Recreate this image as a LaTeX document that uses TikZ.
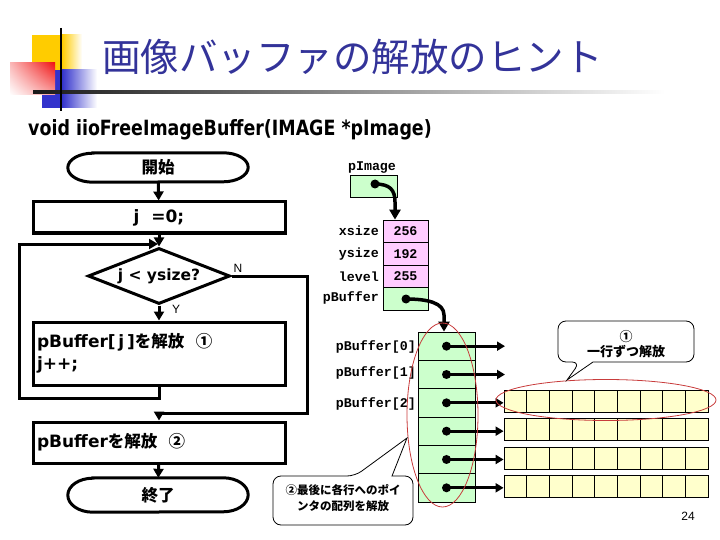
\documentclass[tikz,border=0pt]{standalone}
\usepackage{fontspec}
\setmainfont{Liberation Sans}
\newfontfamily\jp{Noto Sans CJK JP}
\newfontfamily\mono{Liberation Mono}
\newfontfamily\dvs{DejaVu Sans}
\newfontfamily\subf[FakeStretch=0.83]{DejaVu Sans}
\usetikzlibrary{arrows.meta,shapes.geometric,calc,shadings}
\definecolor{ttl}{RGB}{51,51,153}
\definecolor{lgreen}{RGB}{204,255,204}
\definecolor{lpink}{RGB}{255,204,255}
\definecolor{lyel}{RGB}{255,255,204}
\definecolor{ered}{RGB}{200,60,60}
\definecolor{dyel}{RGB}{255,204,0}
\definecolor{dblue}{RGB}{51,51,204}
\definecolor{dred}{RGB}{240,20,20}
\newcommand\cj[1]{{\jp\bfseries\fontsize{16.5}{22}\selectfont #1}}
\tikzset{
  flfont/.style={font=\dvs\bfseries\fontsize{17}{22}\selectfont},
  flbox/.style={draw, line width=3pt, rectangle, flfont, inner sep=0pt, minimum width=252pt},
  term/.style={rectangle, flfont, inner sep=0pt, minimum width=180pt},
  farrow/.style={line width=3pt, -{Triangle[length=9pt,width=10pt]}},
  yn/.style={font=\fontsize{12}{13}\selectfont, inner sep=0pt},
  mlab/.style={font=\mono\bfseries\fontsize{13.3}{14}\selectfont, inner sep=0pt},
  thinbox/.style={draw, line width=0.8pt, rectangle, inner sep=0pt},
  carrow/.style={line width=3.5pt, -{Triangle[length=10pt,width=11pt]}},
  parrow/.style={line width=3pt, -{Triangle[length=8pt,width=9pt]}},
  redell/.style={ellipse, draw=ered, line width=0.8pt, inner sep=0pt},
  callout/.style={line width=0.8pt, rounded corners=8pt},
}
\newcommand\drawterm[3]{%
  \draw[line width=3pt] ([xshift=#2pt]#1.north west) -- ([xshift=-#2pt]#1.north east)
    arc[start angle=90,end angle=-90,x radius=#2pt,y radius=#3pt]
    -- ([xshift=#2pt]#1.south west)
    arc[start angle=270,end angle=90,x radius=#2pt,y radius=#3pt] -- cycle;}
\begin{document}
\begin{tikzpicture}[x=1pt,y=-1pt]
\useasboundingbox (0,0) rectangle (720,540);
% title decoration
\fill[dyel] (32,35) rectangle (62,70);
\shade[left color=dyel, right color=white] (62,35) rectangle (82,70);
\fill[dblue] (42,70) rectangle (62,108);
\shade[left color=dblue, right color=white] (62,70) rectangle (97,108);
\shade[upper left=dred!30!white, upper right=dred, lower left=white, lower right=dred!40!white] (10,63) rectangle (55,95);
\shade[left color=black!90, middle color=black!55, right color=white] (33,90.5) rectangle (665,93.5);
\draw[line width=1.6pt] (61,28) -- (61,111);
\node[font=\jp\fontsize{38.5}{40}\selectfont, text=ttl, inner sep=0pt] (title) at (352.5,57) {画像バッファの解放のヒント};
\node[font=\subf\bfseries\fontsize{21}{24}\selectfont, anchor=west, inner sep=0pt] (sub) at (28,130) {void iioFreeImageBuffer(IMAGE *pImage)};

% flowchart
\node[term, minimum height=29pt] (s) at (158,167.5) {\cj{開始}};
\drawterm{s}{25}{14.5}
\node[flbox, minimum height=31pt] (init) at (159,217.5) {j\ \ =0;};
\node[draw, diamond, aspect=2.54, line width=3pt, inner sep=0pt, minimum width=142pt, minimum height=56pt, font=\dvs\bfseries\fontsize{15.5}{20}\selectfont] (d) at (159,276) {j < ysize?};
\node[flbox, minimum height=63pt, text width=244pt, align=left] (b1) at (159,353.5) {pBuffer[\,j\,]\cj{を解放}\ \ \cj{①}\\j++;};
\node[flbox, minimum height=41pt, text width=244pt, align=left] (b2) at (159,442.5) {pBuffer\cj{を解放}\ \ \cj{②}};
\node[term, minimum height=34pt] (e) at (158,495) {\cj{終了}};
\drawterm{e}{25}{17}

\coordinate (lp) at (19,398);
\coordinate (mg) at (159,244);
\coordinate (nr) at (307,413);
\draw[farrow] (s) -- (init);
\draw[farrow] (init) -- (d);
\draw[farrow] (d) -- (b1);
\draw[line width=3pt, -{Triangle[length=9pt,width=10pt]}] (b1.south) |- (lp) |- ([xshift=-1pt]mg);
\draw[farrow] (d.east) -| (nr) -| (b2.north);
\draw[farrow] (b2) -- (e);
\node[yn] (ylab) at (176,309) {Y};
\node[yn] (nlab) at (238,268) {N};

% structure
\node[mlab] (lpi) at (372,168) {pImage};
\node[thinbox, fill=lgreen, minimum width=47pt, minimum height=22pt] (pib) at (373.5,186) {};
\node[thinbox, fill=lpink, minimum width=45pt, minimum height=22.5pt, mlab] (x0) at (405.5,231.25) {256};
\node[thinbox, fill=lpink, minimum width=45pt, minimum height=22.5pt, mlab] (x1) at (405.5,253.75) {192};
\node[thinbox, fill=lpink, minimum width=45pt, minimum height=22.5pt, mlab] (x2) at (405.5,276.25) {255};
\node[thinbox, fill=lgreen, minimum width=45pt, minimum height=22.5pt] (x3) at (405.5,298.75) {};
\node[mlab, anchor=east] (lx) at (379,231) {xsize};
\node[mlab, anchor=east] (ly) at (379,254) {ysize};
\node[mlab, anchor=east] (ll) at (379,277) {level};
\node[mlab, anchor=east] (lb) at (379,298) {pBuffer};

\coordinate (pid) at (375,184);
\fill (pid) circle (4.5pt);
\draw[carrow] (pid) .. controls (390,184) and (395,190) .. (395,202) -- ([xshift=-10.5pt]x0.north);

% pointer array
\foreach \i in {0,...,5}{
  \node[thinbox, fill=lgreen, minimum width=57pt, minimum height=28.33pt] (a\i) at (446.5,{346.17+\i*28.33}) {};
}
\coordinate (pbd) at (406,299);
\fill (pbd) circle (4.5pt);
\draw[carrow] (pbd) .. controls (428,299) and (444,303) .. (444,315) -- ([xshift=-2.5pt]a0.north);

\node[mlab, anchor=east] (l0) at (416,347) {pBuffer[0]};
\node[mlab, anchor=east] (l1) at (416,373) {pBuffer[1]};
\node[mlab, anchor=east] (l2) at (416,404) {pBuffer[2]};

% rows
\foreach \r in {2,...,5}{
  \foreach \c in {1,...,9}{
    \node[thinbox, fill=lyel, minimum width=22.67pt, minimum height=22pt] (y\r-\c) at ({504+(\c-0.5)*22.667},{401.5+(\r-2)*28.2}) {};
  }
}
\coordinate (t0) at (505,346.17);
\coordinate (t1) at (505,374.5);
\foreach \i in {0,...,5}{ \fill (a\i.center) circle (4.5pt); }
\draw[parrow] (a0.center) -- (t0);
\draw[parrow] (a1.center) -- (t1);
\foreach \i in {2,...,5}{
  \draw[parrow] (a\i.center) -- (a\i.center -| y\i-1.west);
}

% red ellipses
\node[redell, minimum width=220pt, minimum height=41pt] (el1) at (606,400) {};
\node[redell, minimum width=71pt, minimum height=184pt] (el2) at (442.5,415) {};

% callouts
\draw[callout] (593,362) -- (694,362) -- (694,321) -- (558,321) -- (558,362) -- (580,362) [sharp corners] -- (567,380) -- cycle;
\node[font=\jp\bfseries\fontsize{13}{15}\selectfont, align=center, inner sep=0pt] (c1t) at (626,344.5) {①\\一行ずつ解放};
\draw[callout] (392,476) -- (413,476) -- (413,525) -- (273,525) -- (273,476) -- (355,476) [sharp corners] -- (407,438) -- cycle;
\node[font=\jp\bfseries\fontsize{11.5}{16}\selectfont, align=center, inner sep=0pt] (c2t) at (343,498) {②最後に各行へのポイ\\ンタの配列を解放};

\node[font=\fontsize{12}{14}\selectfont, inner sep=0pt] (pg) at (688,516) {24};
\end{tikzpicture}
\end{document}
